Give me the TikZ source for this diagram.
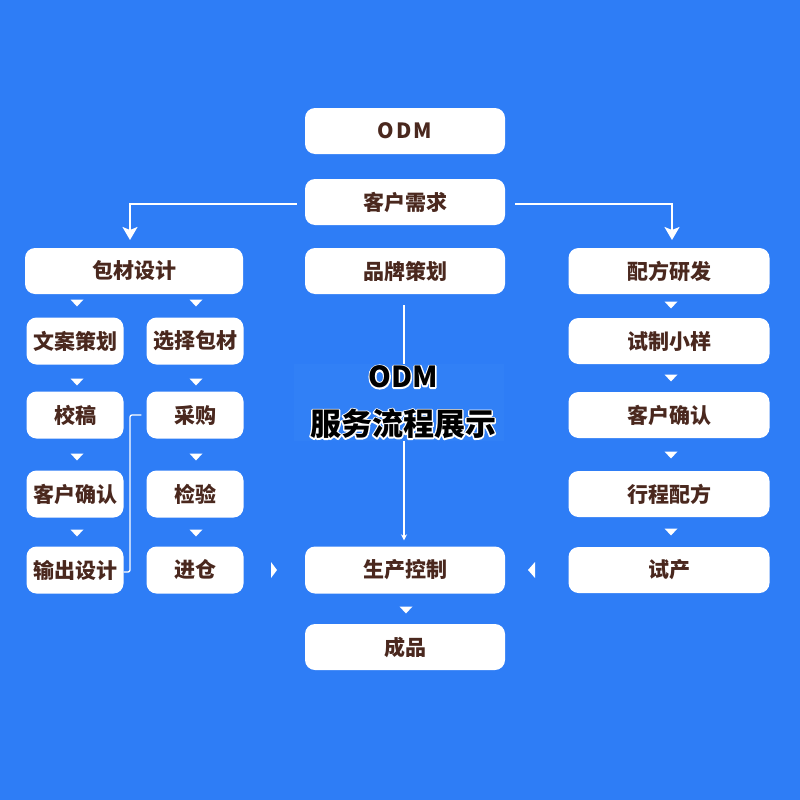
\documentclass[tikz,border=0pt]{standalone}
\usepackage{fontspec}
\setmainfont{Noto Sans CJK SC}
\usetikzlibrary{arrows.meta,calc}
\definecolor{bg}{RGB}{46,125,246}
\definecolor{bgtwo}{RGB}{49,128,246}
\definecolor{txt}{RGB}{74,40,30}
\newcommand\dtri[2]{\fill[white] (#1-6.5,#2-3.5) -- (#1+6.5,#2-3.5) -- (#1,#2+3.5) -- cycle;}
\newcommand\outlinetext[1]{\rlap{\special{pdf:literal direct q 1 Tr 2.8 w 1 j 1 1 1 RG}#1\special{pdf:literal direct Q}}#1}
\tikzset{
  box/.style={fill=white, rounded corners=10pt, text=txt, font=\fontsize{21}{24}\selectfont\bfseries, minimum height=46pt, inner sep=0pt},
  wide/.style={box, minimum width=200pt},
  small/.style={box, minimum width=97pt, minimum height=47pt},
  link/.style={draw=white, line width=1.8pt},
  thinlink/.style={draw=white, line width=1.3pt, rounded corners=2pt},
  titlefont/.style={font=\fontsize{29}{32}\selectfont\bfseries},
  titlefontb/.style={font=\fontsize{31}{34}\selectfont\bfseries},
}
\begin{document}
\begin{tikzpicture}[x=1pt,y=-1pt]
\fill[bg] (0,0) rectangle (800,800);
\useasboundingbox (0,0) rectangle (800,800);

% top / centre column
\node[wide] (odm) at (405,131) {O\kern2ptD\kern2ptM};
\node[wide] (kehu) at (405,202) {客户需求};
\node[wide] (pinpai) at (405,271) {品牌策划};
\node[wide, minimum height=47pt] (shengchan) at (405,570) {生产控制};
\node[wide] (chengpin) at (405,647) {成品};

% left
\node[box, minimum width=218pt] (baocai) at (134,271) {包材设计};
\node[small] (wenan) at (75,341) {文案策划};
\node[small] (xuanze) at (195,341) {选择包材};
\node[small] (jiaogao) at (75,415) {校稿};
\node[small] (caigou) at (195,415) {采购};
\node[small] (queren) at (75,494) {客户确认};
\node[small] (jianyan) at (195,494) {检验};
\node[small] (shuchu) at (75,570) {输出设计};
\node[small] (jincang) at (195,570) {进仓};

% right
\node[box, minimum width=201pt] (peifang) at (669,271) {配方研发};
\node[box, minimum width=201pt] (shizhi) at (669,341) {试制小样};
\node[box, minimum width=201pt] (querenb) at (669,415) {客户确认};
\node[box, minimum width=201pt] (xingcheng) at (669,494) {行程配方};
\node[box, minimum width=201pt] (shichan) at (669,570) {试产};

% small down triangles
\dtri{77}{303}\dtri{196}{303}
\dtri{77}{382}\dtri{196}{382}
\dtri{77}{457}\dtri{196}{457}
\dtri{77}{533}\dtri{196}{533}
\dtri{671}{305}\dtri{671}{378}\dtri{671}{455}\dtri{671}{532}
\dtri{406}{610}
% side triangles
\fill[white] (271,562) -- (277,570) -- (271,578) -- cycle;
\fill[white] (535,562) -- (528,570) -- (535,578) -- cycle;

% arrows from customer need
\coordinate (la) at (130,240);
\coordinate (ra) at (672,240);
\draw[link, -{Stealth[length=13pt,width=15pt,inset=3pt]}] ($(kehu.west)+(-8,2)$) -| (la);
\draw[link, -{Stealth[length=13pt,width=15pt,inset=3pt]}] ($(kehu.east)+(10,2)$) -| (ra);

% centre line
\draw[white, line width=1.2pt, -{Stealth[length=6pt,width=6pt]}] ($(pinpai.south)+(-1,11)$) -- ($(shengchan.north)+(-1,-6)$);

% connector output design -> purchase
\draw[thinlink] ($(shuchu.east)+(0,2)$) -| (130,415) -- ($(caigou.west)+(-5,0)$);

% title
\node[fill=bgtwo, minimum width=210pt, minimum height=77pt, inner sep=0pt] (title) at (399,402) {};
\node[titlefont, text=black] (t1) at (403,377) {\outlinetext{ODM}};
\node[titlefontb, text=black] (t2) at (403,424) {\outlinetext{服务流程展示}};
\end{tikzpicture}
\end{document}
